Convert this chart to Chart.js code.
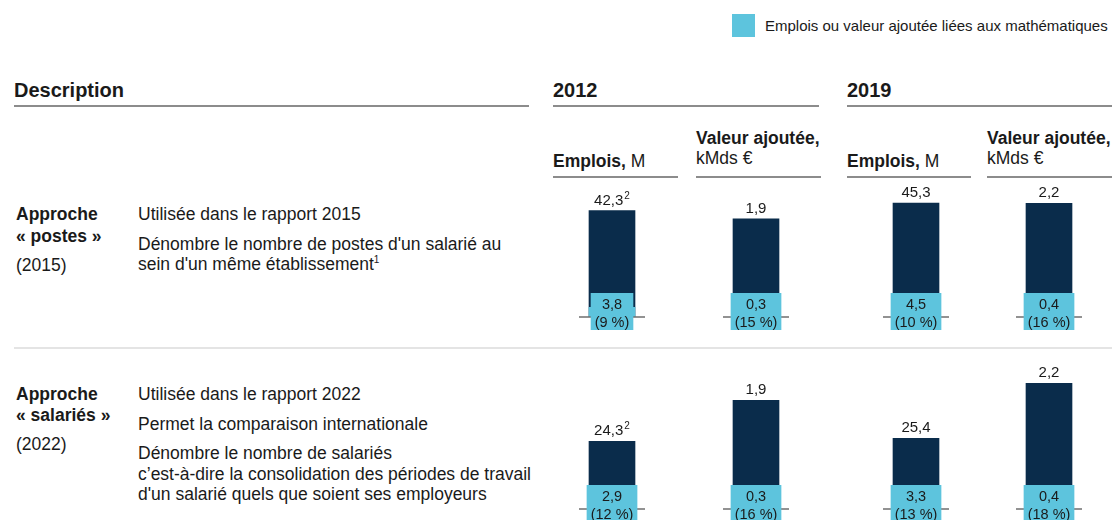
<!DOCTYPE html>
<html lang="fr">
<head>
<meta charset="utf-8">
<title>Emplois et valeur ajoutée liés aux mathématiques</title>
<script src="https://cdn.jsdelivr.net/npm/chart.js@4.4.1/dist/chart.umd.min.js"></script>
<style>
  html, body { margin: 0; padding: 0; background: #ffffff; }
  #page {
    position: relative; width: 1114px; height: 520px; overflow: hidden;
    font-family: "Liberation Sans", Arial, Helvetica, sans-serif; color: #1a1a1a;
  }
  .t { position: absolute; white-space: nowrap; font-size: 17.5px; line-height: 20px; }
  .b { font-weight: bold; }
  .h { position: absolute; white-space: nowrap; font-size: 20px; line-height: 24px; font-weight: bold; }
  .rule { position: absolute; height: 1.5px; background: #8c8c8c; }
  .sep { position: absolute; height: 2px; background: #e4e4e4; }
  sup { font-size: 10px; line-height: 0; vertical-align: 7px; }
  canvas { position: absolute; }
</style>
</head>
<body>
<div id="page">
  <!-- legend -->
  <div style="position:absolute;left:732px;top:14px;width:23px;height:23px;background:#5dc4dd;"></div>
  <div class="t" style="left:765px;top:16px;font-size:15px;line-height:20px;">Emplois ou valeur ajoutée liées aux mathématiques</div>

  <!-- column headers -->
  <div class="h" style="left:14px;top:78px;">Description</div>
  <div class="rule" style="left:14px;top:105px;width:515px;"></div>
  <div class="h" id="year0" style="left:553px;top:78px;"></div>
  <div class="rule" style="left:553px;top:105px;width:266px;"></div>
  <div class="h" id="year1" style="left:847px;top:78px;"></div>
  <div class="rule" style="left:847px;top:105px;width:265px;"></div>

  <div class="t" style="left:553px;top:151px;"><span class="b">Emplois,</span> M</div>
  <div class="rule" style="left:553px;top:176px;width:125px;"></div>
  <div class="t" style="left:696px;top:128px;"><span class="b">Valeur ajoutée,</span><br>kMds €</div>
  <div class="rule" style="left:696px;top:176px;width:125px;"></div>
  <div class="t" style="left:847px;top:151px;"><span class="b">Emplois,</span> M</div>
  <div class="rule" style="left:847px;top:176px;width:124px;"></div>
  <div class="t" style="left:987px;top:128px;"><span class="b">Valeur ajoutée,</span><br>kMds €</div>
  <div class="rule" style="left:987px;top:176px;width:125px;"></div>

  <!-- row 1 : approche postes -->
  <div class="t b" style="left:16px;top:204px;">Approche</div>
  <div class="t b" style="left:16px;top:226px;">« postes »</div>
  <div class="t" style="left:16px;top:255px;">(2015)</div>
  <div class="t" style="left:138px;top:204px;">Utilisée dans le rapport 2015</div>
  <div class="t" style="left:138px;top:234px;">Dénombre le nombre de postes d'un salarié au<br>sein d'un même établissement<sup>1</sup></div>

  <div class="sep" style="left:14px;top:347px;width:1098px;"></div>

  <!-- row 2 : approche salariés -->
  <div class="t b" style="left:16px;top:384px;">Approche</div>
  <div class="t b" style="left:16px;top:405px;">« salariés »</div>
  <div class="t" style="left:16px;top:434px;">(2022)</div>
  <div class="t" style="left:138px;top:384px;">Utilisée dans le rapport 2022</div>
  <div class="t" style="left:138px;top:414px;">Permet la comparaison internationale</div>
  <div class="t" style="left:138px;top:443px;line-height:20.5px;">Dénombre le nombre de salariés<br>c’est-à-dire la consolidation des périodes de travail<br>d'un salarié quels que soient ses employeurs</div>
</div>

<script>
// Column order in each row: 2012 Emplois, 2012 Valeur ajoutée, 2019 Emplois, 2019 Valeur ajoutée
const years = ['2012', '2019'];
const metrics = ['emplois', 'valeur', 'emplois', 'valeur'];

// Approche « postes » (2015)
const totalPostes = [42.3, 1.9, 45.3, 2.2];
const mathPostes  = [3.8, 0.3, 4.5, 0.4];
const sharePostes = [9, 15, 10, 16];
const notePostes  = ['2', '', '', ''];

// Approche « salariés » (2022)
const totalSalaries = [24.3, 1.9, 25.4, 2.2];
const mathSalaries  = [2.9, 0.3, 3.3, 0.4];
const shareSalaries = [12, 16, 13, 18];
const noteSalaries  = ['2', '', '', ''];

const NAVY = '#0a2c4b';
const CYAN = '#5dc4dd';
const FONT = '"Liberation Sans", Arial, Helvetica, sans-serif';

document.getElementById('year0').textContent = years[0];
document.getElementById('year1').textContent = years[1];

// Layout of the small bar panels
const colCenters = [612, 756, 916, 1049];
const rowsLayout = [
  { top: 180, height: 160, padBottom: 23, max: { emplois: 54.5, valeur: 2.65 } },
  { top: 365, height: 155, padBottom: 11, max: { emplois: 51.8, valeur: 2.52 } }
];
const rowsData = [
  { total: totalPostes, math: mathPostes, share: sharePostes, note: notePostes },
  { total: totalSalaries, math: mathSalaries, share: shareSalaries, note: noteSalaries }
];

const fmt = v => v.toFixed(1).replace('.', ',');

// Draws the total above the bar, the baseline tick and the cyan math-share tag
const barLabels = {
  id: 'barLabels',
  afterDatasetsDraw(chart, args, opts) {
    const ctx = chart.ctx;
    const bar = chart.getDatasetMeta(1).data[0];
    const tag = chart.getDatasetMeta(0).data[0];
    const half = bar.width / 2;
    const base = bar.base;
    ctx.save();

    // value above the bar, with optional footnote marker
    ctx.fillStyle = '#1a1a1a';
    ctx.textBaseline = 'alphabetic';
    ctx.font = '15px ' + FONT;
    const main = fmt(opts.total);
    const mw = ctx.measureText(main).width;
    ctx.font = '10px ' + FONT;
    const sw = opts.note ? ctx.measureText(opts.note).width + 1 : 0;
    const x0 = bar.x - (mw + sw) / 2;
    ctx.font = '15px ' + FONT;
    ctx.textAlign = 'left';
    ctx.fillText(main, x0, bar.y - 6);
    if (opts.note) {
      ctx.font = '10px ' + FONT;
      ctx.fillText(opts.note, x0 + mw + 1, bar.y - 12);
    }

    // baseline tick
    ctx.strokeStyle = '#6e6e6e';
    ctx.lineWidth = 1.5;
    ctx.beginPath();
    ctx.moveTo(bar.x - half - 10, base);
    ctx.lineTo(bar.x + half + 10, base);
    ctx.stroke();

    // tag with the mathematics-related value and its share
    const l1 = fmt(opts.math);
    const l2 = '(' + opts.share + ' %)';
    ctx.font = '14.5px ' + FONT;
    const tw = Math.max(ctx.measureText(l1).width, ctx.measureText(l2).width) + 8;
    ctx.fillStyle = CYAN;
    ctx.fillRect(tag.x - tw / 2, base - 24, tw, 37);
    ctx.fillStyle = '#1a1a1a';
    ctx.textAlign = 'center';
    ctx.textBaseline = 'middle';
    ctx.fillText(l1, tag.x, base - 12);
    ctx.fillText(l2, tag.x, base + 6);
    ctx.restore();
  }
};

const page = document.getElementById('page');
rowsLayout.forEach((row, r) => {
  const d = rowsData[r];
  colCenters.forEach((cx, c) => {
    const w = 110;
    const cv = document.createElement('canvas');
    cv.width = w; cv.height = row.height;
    cv.style.left = (cx - w / 2) + 'px';
    cv.style.top = row.top + 'px';
    cv.style.width = w + 'px';
    cv.style.height = row.height + 'px';
    page.appendChild(cv);

    new Chart(cv, {
      type: 'bar',
      data: {
        labels: [years[c < 2 ? 0 : 1]],
        datasets: [
          { data: [d.math[c]], backgroundColor: CYAN, grouped: false, order: 1, barThickness: 46, borderWidth: 0 },
          { data: [d.total[c]], backgroundColor: NAVY, grouped: false, order: 2, barThickness: 46, borderWidth: 0 }
        ]
      },
      options: {
        responsive: false,
        animation: false,
        events: [],
        layout: { padding: { top: 0, bottom: row.padBottom, left: 0, right: 0 } },
        plugins: {
          legend: { display: false },
          tooltip: { enabled: false },
          barLabels: { total: d.total[c], math: d.math[c], share: d.share[c], note: d.note[c] }
        },
        scales: {
          x: { display: false },
          y: { display: false, min: 0, max: row.max[metrics[c]] }
        }
      },
      plugins: [barLabels]
    });
  });
});
</script>
</body>
</html>
